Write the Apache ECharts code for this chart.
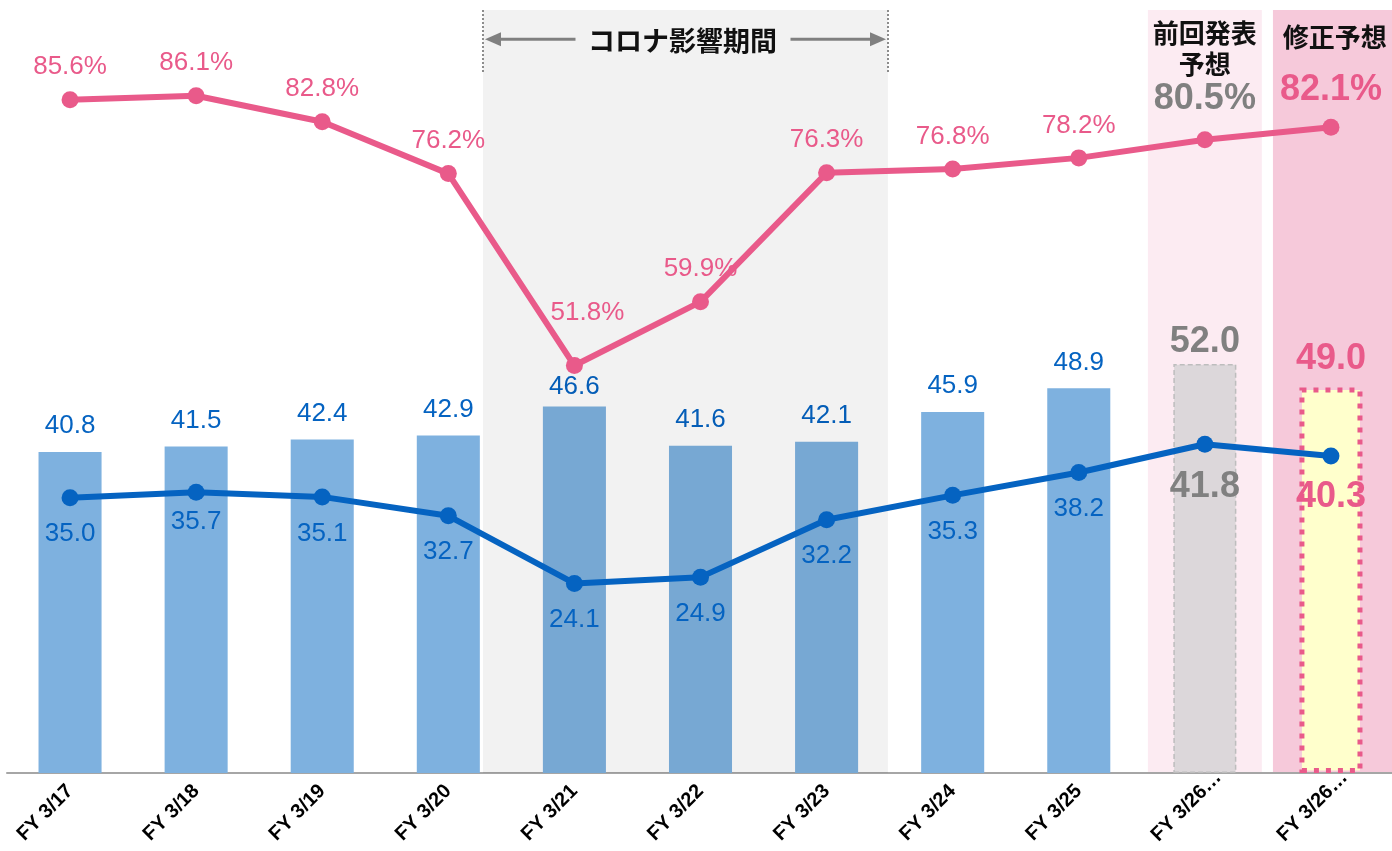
<!DOCTYPE html>
<html><head><meta charset="utf-8">
<script src="https://cdn.jsdelivr.net/npm/echarts@6/dist/echarts.min.js"></script>
<style>html,body{margin:0;padding:0;background:#fff}#c{width:1392px;height:851px}</style>
</head><body><div id="c"></div>
<script>
// ---- data ----
const categories = ['FY 3/17','FY 3/18','FY 3/19','FY 3/20','FY 3/21','FY 3/22','FY 3/23','FY 3/24','FY 3/25','FY 3/26…','FY 3/26…'];
const barValues  = [40.8, 41.5, 42.4, 42.9, 46.6, 41.6, 42.1, 45.9, 48.9, 52.0, 49.0];
const blueValues = [35.0, 35.7, 35.1, 32.7, 24.1, 24.9, 32.2, 35.3, 38.2, 41.8, 40.3];
const pinkValues = [85.6, 86.1, 82.8, 76.2, 51.8, 59.9, 76.3, 76.8, 78.2, 80.5, 82.1];
const coronaLabel = 'コロナ影響期間';
const coronaSpan = [3.275, 6.487];            // in category-index units
const forecastSpans = [[8.548, 9.452], [9.54, 10.5]];
const forecastHeaders = ['前回発表\n予想', '修正予想'];
const forecastHeaderPos = [[9.0, 92.15], [10.03, 93.5]];

// ---- styles ----
const Y_MAX = 97;
const FONT = '"Liberation Sans", Arial, sans-serif';
const CJK = '"Noto Sans CJK JP", "Liberation Sans", sans-serif';
const BLUE = '#0563C1', PINK = '#E95A8A', BAR = '#7EB1DF', GRAY_TXT = '#808080';
const PREV = 9, REV = 10;
const BIG = 36, NORMAL = 26;

const axisData = categories.map((c, i) =>
  i >= PREV ? { value: c, textStyle: { padding: [0, -19, 0, 0] } } : c);

const barData = barValues.map((v, i) => {
  const d = { value: v };
  if (i === 4) d.label = { distance: 7 };
  if (i === PREV) {
    d.itemStyle = { color: '#DCD7DA', borderColor: '#BDBDBD', borderType: [5, 3], borderWidth: 1.5 };
    d.label = { color: GRAY_TXT, fontWeight: 'bold', fontSize: BIG, distance: 4 };
  }
  if (i === REV) {
    d.itemStyle = { color: '#FFFFCC', borderColor: PINK, borderType: [5, 7], borderWidth: 5 };
    d.label = { color: PINK, fontWeight: 'bold', fontSize: BIG, distance: 10 };
  }
  return d;
});
const blueData = blueValues.map((v, i) => {
  const d = { value: v };
  if (i === 1) d.label = { offset: [0, -7] };
  if (i === PREV) d.label = { color: GRAY_TXT, fontWeight: 'bold', fontSize: BIG, distance: 16 };
  if (i === REV) d.label = { color: PINK, fontWeight: 'bold', fontSize: BIG, distance: 15 };
  return d;
});
const pinkData = pinkValues.map((v, i) => {
  const d = { value: v };
  if (i === 4) d.label = { offset: [13, -20] };
  if (i === PREV) d.label = { color: GRAY_TXT, fontWeight: 'bold', fontSize: BIG, distance: 14 };
  if (i === REV) d.label = { color: PINK, fontWeight: 'bold', fontSize: BIG, distance: 11 };
  return d;
});

const chart = echarts.init(document.getElementById('c'), null, { renderer: 'canvas' });

function regionItem(params, api) {
  const a = api.coord([api.value(0), Y_MAX]);
  const b = api.coord([api.value(1), 0]);
  return { type: 'rect', shape: { x: a[0], y: a[1], width: b[0] - a[0], height: b[1] - a[1] },
           style: { fill: api.visual('color') } };
}

function coronaAnnot(params, api) {
  const x0 = api.coord([api.value(0), Y_MAX]);
  const x1 = api.coord([api.value(1), Y_MAX]);
  const bot = api.coord([api.value(0), 89.1])[1];
  const ay = api.coord([api.value(0), 93.27])[1];
  const cx = (x0[0] + x1[0]) / 2;
  const lStart = x0[0] + 2, lEnd = cx - 110;
  const rStart = cx + 105, rEnd = x1[0] - 2;
  const head = 16, hh = 7;
  const lineStyle = { stroke: '#808080', lineWidth: 3 };
  const dot = { stroke: '#8C8C8C', lineWidth: 2, lineDash: [2, 2] };
  return { type: 'group', children: [
    { type: 'line', shape: { x1: x0[0], y1: x0[1], x2: x0[0], y2: bot }, style: dot },
    { type: 'line', shape: { x1: x1[0], y1: x1[1], x2: x1[0], y2: bot }, style: dot },
    { type: 'line', shape: { x1: lStart + head - 2, y1: ay, x2: lEnd, y2: ay }, style: lineStyle },
    { type: 'polygon', shape: { points: [[lStart, ay], [lStart + head, ay - hh], [lStart + head, ay + hh]] }, style: { fill: '#808080' } },
    { type: 'line', shape: { x1: rStart, y1: ay, x2: rEnd - head + 2, y2: ay }, style: lineStyle },
    { type: 'polygon', shape: { points: [[rEnd, ay], [rEnd - head, ay - hh], [rEnd - head, ay + hh]] }, style: { fill: '#808080' } },
    { type: 'text', x: cx - 3, y: ay + 1, style: { text: coronaLabel, fill: '#111', font: 'bold 27px ' + CJK, align: 'center', verticalAlign: 'middle' } }
  ]};
}

function headerItem(params, api) {
  const p = api.coord([api.value(0), api.value(1)]);
  return { type: 'text', x: p[0], y: p[1], style: {
    text: forecastHeaders[params.dataIndex], fill: '#111', font: 'bold 26px ' + CJK,
    align: 'center', verticalAlign: 'middle', lineHeight: 31 } };
}

chart.setOption({
  animation: false,
  backgroundColor: '#fff',
  grid: { left: 7, top: 10, width: 1387, height: 763, containLabel: false, outerBoundsMode: 'none' },
  xAxis: [
    { type: 'category', data: axisData, boundaryGap: true,
      axisTick: { show: false },
      axisLine: { lineStyle: { color: '#A6A6A6', width: 2 } },
      axisLabel: { rotate: 45, interval: 0, margin: 15, color: '#000', fontWeight: 'bold', fontSize: 20, fontFamily: FONT } },
    { type: 'value', min: -0.5, max: 10.5, show: false }
  ],
  yAxis: { type: 'value', min: 0, max: Y_MAX, show: false, splitLine: { show: false } },
  series: [
    { type: 'custom', xAxisIndex: 1, z: 0, silent: true, renderItem: regionItem,
      data: [ { value: forecastSpans[0], itemStyle: { color: '#FCEBF2' } },
              { value: forecastSpans[1], itemStyle: { color: '#F6C9DA' } } ] },
    { type: 'bar', z: 1, barWidth: '50%', data: barData,
      itemStyle: { color: BAR },
      label: { show: true, position: 'top', distance: 13, color: BLUE, fontSize: NORMAL, fontFamily: FONT,
               formatter: p => p.value.toFixed(1) } },
    { type: 'custom', xAxisIndex: 1, z: 2, silent: true, renderItem: regionItem,
      data: [ { value: coronaSpan, itemStyle: { color: 'rgba(0,0,0,0.05)' } } ] },
    { type: 'custom', xAxisIndex: 1, z: 3, silent: true, renderItem: coronaAnnot, data: [coronaSpan] },
    { type: 'custom', xAxisIndex: 1, z: 3, silent: true, renderItem: headerItem, data: forecastHeaderPos },
    { type: 'line', z: 5, data: blueData, symbol: 'circle', symbolSize: 17,
      lineStyle: { color: BLUE, width: 6 }, itemStyle: { color: BLUE },
      label: { show: true, position: 'bottom', distance: 15, color: BLUE, fontSize: NORMAL, fontFamily: FONT,
               formatter: p => p.value.toFixed(1) } },
    { type: 'line', z: 5, data: pinkData, symbol: 'circle', symbolSize: 17,
      lineStyle: { color: PINK, width: 6 }, itemStyle: { color: PINK },
      label: { show: true, position: 'top', distance: 11, color: PINK, fontSize: NORMAL, fontFamily: FONT,
               formatter: p => p.value.toFixed(1) + '%' } }
  ]
});
</script></body></html>
